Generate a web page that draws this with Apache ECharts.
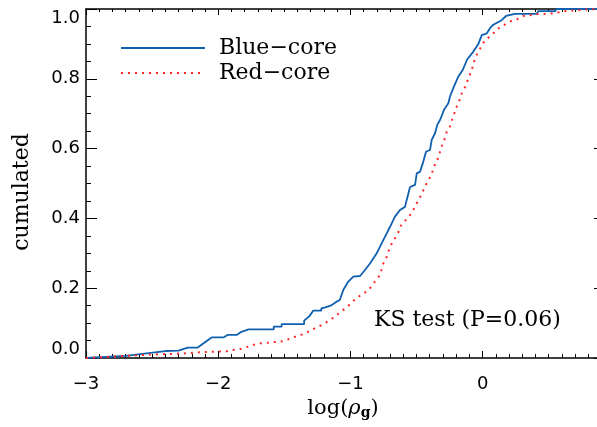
<!DOCTYPE html>
<html>
<head>
<meta charset="utf-8">
<script src="https://cdn.jsdelivr.net/npm/echarts@6/dist/echarts.min.js"></script>
<style>
  html, body { margin: 0; padding: 0; background: #fff; }
  #chart { width: 597px; height: 427px; }
</style>
</head>
<body>
<div id="chart"></div>
<script>
// Cumulative distributions of log(rho_g) for the two galaxy samples.
const blueX = [-3.0, -2.70, -2.40, -2.30, -2.23, -2.155, -2.05, -1.96, -1.93, -1.86, -1.83, -1.77,
  -1.58, -1.58, -1.52, -1.52, -1.35, -1.35, -1.31, -1.28, -1.22, -1.22, -1.19, -1.15, -1.11, -1.08,
  -1.054, -1.016, -0.978, -0.927, -0.890, -0.852, -0.801, -0.763, -0.725, -0.700, -0.663, -0.625,
  -0.587, -0.574, -0.549, -0.511, -0.498, -0.473, -0.449, -0.428, -0.398, -0.385, -0.360, -0.343,
  -0.322, -0.292, -0.259, -0.247, -0.222, -0.184, -0.151, -0.116, -0.070, -0.032, -0.006, 0.031,
  0.056, 0.081, 0.144, 0.177, 0.245, 0.409, 0.421, 0.548, 0.56, 0.888];
const blueY = [0.0, 0.006, 0.020, 0.021, 0.030, 0.030, 0.059, 0.059, 0.066, 0.066, 0.074, 0.082,
  0.082, 0.090, 0.090, 0.097, 0.097, 0.107, 0.120, 0.136, 0.136, 0.142, 0.145, 0.150, 0.160, 0.166,
  0.195, 0.219, 0.233, 0.235, 0.252, 0.271, 0.300, 0.329, 0.357, 0.376, 0.405, 0.424,
  0.433, 0.453, 0.490, 0.496, 0.529, 0.534, 0.562, 0.591, 0.596, 0.625, 0.644, 0.668,
  0.682, 0.711, 0.730, 0.749, 0.773, 0.806, 0.825, 0.856, 0.878, 0.900, 0.925, 0.930,
  0.945, 0.955, 0.968, 0.980, 0.986, 0.986, 0.994, 0.994, 1.0, 1.0];

const redX = [-3.0, -2.70, -2.50, -2.33, -2.21, -2.16, -2.11, -2.05, -1.94, -1.89, -1.84, -1.78,
  -1.73, -1.68, -1.62, -1.57, -1.51, -1.46, -1.41, -1.36, -1.31, -1.27, -1.22, -1.17, -1.12, -1.07,
  -1.02, -0.97, -0.92, -0.865, -0.814, -0.776, -0.751, -0.725, -0.700, -0.663, -0.638, -0.625,
  -0.592, -0.562, -0.536, -0.511, -0.486, -0.468, -0.436, -0.411, -0.385, -0.373, -0.347, -0.335,
  -0.317, -0.302, -0.284, -0.272, -0.247, -0.234, -0.216, -0.209, -0.184, -0.158, -0.133, -0.108,
  -0.082, -0.065, -0.040, -0.007, 0.018, 0.056, 0.081, 0.107, 0.144, 0.182, 0.220, 0.258, 0.308,
  0.371, 0.421, 0.472, 0.535, 0.598, 0.648, 0.737, 0.800, 0.888];
const redY = [0.0, 0.006, 0.010, 0.012, 0.014, 0.016, 0.017, 0.018, 0.019, 0.023, 0.025, 0.032,
  0.038, 0.042, 0.044, 0.046, 0.048, 0.055, 0.062, 0.068, 0.077, 0.085, 0.094, 0.105, 0.118, 0.133,
  0.148, 0.166, 0.181, 0.193, 0.219, 0.238, 0.271, 0.290, 0.319, 0.343, 0.359, 0.376,
  0.391, 0.403, 0.416, 0.434, 0.453, 0.464, 0.491, 0.510, 0.524, 0.546, 0.561, 0.577,
  0.596, 0.615, 0.630, 0.648, 0.663, 0.680, 0.696, 0.711, 0.728, 0.758, 0.776, 0.801,
  0.825, 0.849, 0.873, 0.894, 0.911, 0.921, 0.930, 0.942, 0.949, 0.959, 0.966, 0.970, 0.980,
  0.983, 0.986, 0.986, 0.988, 0.992, 0.995, 0.997, 0.999, 1.0];

const seriesNames = ['Blue-core', 'Red-core'];
const xMin = -3, xMax = 0.888;
const yMin = 0, yMax = 1;

const SANS = 'DejaVu Sans';
const SERIF = 'DejaVu Serif';
const lineBlack = { color: '#000', width: 1.5 };
const minus = s => String(s).replace(/-/g, '\u2212');

function xAxisDef(pos, interval, tickLen, withLine, withLabels) {
  return {
    type: 'value', position: pos, min: xMin, max: xMax, interval: interval,
    axisLine: { show: withLine, onZero: false, lineStyle: lineBlack },
    axisTick: { show: true, inside: true, length: tickLen, lineStyle: { color: '#000', width: 1 } },
    axisLabel: withLabels ? {
      show: true, margin: 17, color: '#000', fontFamily: SANS, fontSize: 18,
      showMaxLabel: false, formatter: v => minus(v)
    } : { show: false },
    splitLine: { show: false }
  };
}

function yAxisDef(pos, majorLen, minorLen, withLabels) {
  return {
    type: 'value', position: pos, min: yMin, max: yMax, interval: 0.2,
    axisLine: { show: true, onZero: false, lineStyle: lineBlack },
    axisTick: { show: true, inside: true, length: majorLen, lineStyle: { color: '#000', width: 1 } },
    minorTick: { show: true, splitNumber: 4, length: minorLen, lineStyle: { color: '#000', width: 1 } },
    axisLabel: withLabels ? {
      show: true, margin: 6, color: '#000', fontFamily: SANS, fontSize: 18,
      verticalAlignMinLabel: 'bottom', verticalAlignMaxLabel: 'top',
      formatter: v => v.toFixed(1)
    } : { show: false },
    splitLine: { show: false }, minorSplitLine: { show: false }
  };
}

const xMain = xAxisDef('bottom', 1, 7, true, true);
xMain.name = 'log({r|\u03C1}{g|g})';
xMain.nameLocation = 'middle';
xMain.nameGap = 36;
xMain.nameTextStyle = {
  color: '#000', fontFamily: SERIF, fontSize: 21,
  rich: {
    r: { fontFamily: SERIF, fontSize: 21, fontStyle: 'italic', color: '#000' },
    g: { fontFamily: SERIF, fontSize: 14, fontWeight: 'bold', color: '#000', padding: [9, 0, 0, 0] }
  }
};

const chart = echarts.init(document.getElementById('chart'), null, { renderer: 'canvas' });
chart.setOption({
  animation: false,
  backgroundColor: '#fff',
  grid: { left: 86, right: -3, top: 9, bottom: 69, containLabel: false, outerBoundsMode: 'none' },
  xAxis: [
    xMain,
    xAxisDef('bottom', 0.1, 4, false, false),
    xAxisDef('top', 1, 6, true, false),
    xAxisDef('top', 0.1, 3, false, false)
  ],
  yAxis: [
    yAxisDef('left', 11, 5, true),
    yAxisDef('right', 6, 3, false)
  ],
  legend: {
    orient: 'vertical', left: 115, top: 32,
    itemWidth: 84, itemHeight: 14, itemGap: 3,
    data: seriesNames,
    formatter: name => minus(name),
    itemStyle: { opacity: 0 },
    textStyle: { color: '#000', fontFamily: SERIF, fontSize: 22, lineHeight: 20, padding: [0, 0, 0, 9] }
  },
  graphic: [
    {
      type: 'text', x: 22, y: 192, rotation: Math.PI / 2,
      style: { text: 'cumulated', fill: '#000', font: '22px "DejaVu Serif"', align: 'center', verticalAlign: 'middle' }
    },
    {
      type: 'text', x: 374, y: 320,
      style: { text: 'KS test (P=0.06)', fill: '#000', font: '22px "DejaVu Serif"', align: 'left', verticalAlign: 'middle' }
    }
  ],
  series: [
    {
      name: seriesNames[0], type: 'line', xAxisIndex: 0, yAxisIndex: 0,
      data: blueX.map((x, i) => [x, blueY[i]]),
      symbol: 'none', smooth: false,
      lineStyle: { color: '#1060b0', width: 1.8 },
      itemStyle: { color: '#1060b0' }
    },
    {
      name: seriesNames[1], type: 'line', xAxisIndex: 0, yAxisIndex: 0,
      data: redX.map((x, i) => [x, redY[i]]),
      symbol: 'none', smooth: false,
      lineStyle: { color: '#ff2626', width: 2, type: [2, 5] },
      itemStyle: { color: '#ff2626' }
    }
  ]
});
</script>
</body>
</html>
